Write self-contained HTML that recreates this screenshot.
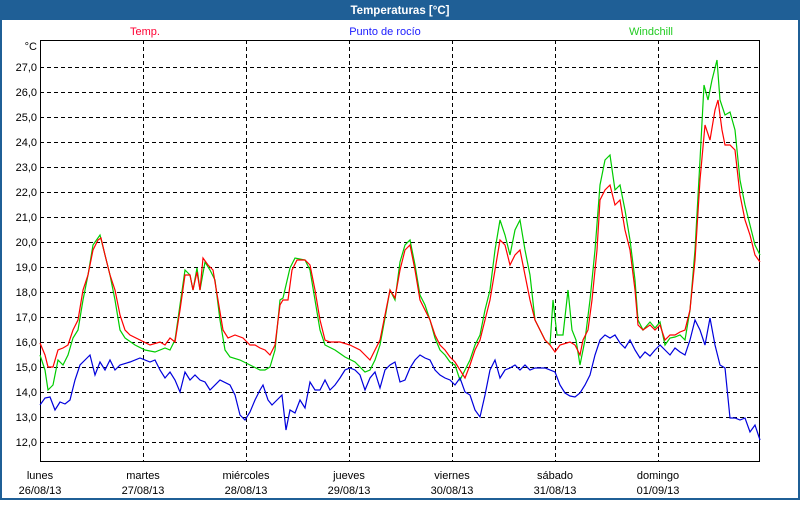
<!DOCTYPE html>
<html><head><style>
body{margin:0;width:800px;height:500px;overflow:hidden;background:#fff;font-family:"Liberation Sans",sans-serif;}
</style></head><body>
<svg width="800" height="500" xmlns="http://www.w3.org/2000/svg" font-family="Liberation Sans, sans-serif" font-size="11">
<rect x="0" y="0" width="800" height="500" fill="#1f5f96"/>
<rect x="2" y="20" width="796" height="478" fill="#fff"/>
<text x="400" y="14" fill="#fff" font-weight="bold" text-anchor="middle" font-size="11.5">Temperaturas [°C]</text>
<text x="145" y="35" fill="#ff0033" text-anchor="middle">Temp.</text>
<text x="385" y="35" fill="#1a1aff" text-anchor="middle">Punto de rocío</text>
<text x="651" y="35" fill="#22cc22" text-anchor="middle">Windchill</text>
<g stroke="#000" stroke-dasharray="4,3" stroke-width="1">
<path d="M40 67.5H760M40 92.5H760M40 117.5H760M40 142.5H760M40 167.5H760M40 192.5H760M40 217.5H760M40 242.5H760M40 267.5H760M40 292.5H760M40 317.5H760M40 342.5H760M40 367.5H760M40 392.5H760M40 417.5H760M40 442.5H760"/>
<path d="M143.5 40V461M246.5 40V461M349.5 40V461M452.5 40V461M555.5 40V461M658.5 40V461"/>
</g>
<rect x="40.5" y="40.5" width="719" height="421" fill="none" stroke="#000"/>
<g text-anchor="end" fill="#000">
<text x="37" y="50">°C</text>
<text x="37" y="71">27,0</text><text x="37" y="96">26,0</text><text x="37" y="121">25,0</text><text x="37" y="146">24,0</text>
<text x="37" y="171">23,0</text><text x="37" y="196">22,0</text><text x="37" y="221">21,0</text><text x="37" y="246">20,0</text>
<text x="37" y="271">19,0</text><text x="37" y="296">18,0</text><text x="37" y="321">17,0</text><text x="37" y="346">16,0</text>
<text x="37" y="371">15,0</text><text x="37" y="396">14,0</text><text x="37" y="421">13,0</text><text x="37" y="446">12,0</text>
</g>
<g text-anchor="middle" fill="#000">
<text x="40" y="479">lunes</text><text x="40" y="494">26/08/13</text>
<text x="143" y="479">martes</text><text x="143" y="494">27/08/13</text>
<text x="246" y="479">miércoles</text><text x="246" y="494">28/08/13</text>
<text x="349" y="479">jueves</text><text x="349" y="494">29/08/13</text>
<text x="452" y="479">viernes</text><text x="452" y="494">30/08/13</text>
<text x="555" y="479">sábado</text><text x="555" y="494">31/08/13</text>
<text x="658" y="479">domingo</text><text x="658" y="494">01/09/13</text>
</g>
<g fill="none" stroke-width="1.2">
<polyline stroke="#00cc00" points="40,355 45,370 48,390 53,385 58,360 63,365 68,355 73,338 78,330 83,300 88,275 93,245 100,235 105,255 110,275 115,300 120,330 125,338 135,345 145,350 155,352 165,348 170,350 175,340 180,305 185,270 190,275 193,290 197,268 200,290 205,262 210,270 215,280 220,320 225,350 230,357 240,360 250,365 260,370 265,370 270,367 275,350 280,300 283,298 290,268 295,258 305,260 310,270 315,300 320,330 325,345 335,350 345,357 355,362 365,372 370,370 375,360 380,345 385,318 390,290 395,300 400,262 405,245 410,240 415,265 420,295 425,305 430,320 435,338 440,350 445,355 450,362 455,365 460,380 465,370 470,360 475,345 480,335 485,310 490,290 495,250 500,220 505,235 510,255 515,230 520,220 525,250 530,275 535,320 540,330 545,340 550,345 553,300 557,335 563,335 568,290 572,330 576,340 580,365 585,340 590,300 595,250 600,185 605,160 610,155 615,190 620,185 625,210 630,240 635,280 638,320 643,330 650,322 655,328 660,322 665,345 670,338 675,337 680,335 685,340 690,310 695,250 700,160 704,85 708,100 712,80 717,60 720,100 725,115 730,112 735,130 740,180 745,205 750,225 755,245 760,255"/>
<polyline stroke="#ff0000" points="40,343 45,355 48,367 53,367 58,350 63,348 68,345 73,330 78,320 83,290 88,275 93,250 98,240 101,238 105,255 110,275 115,290 120,315 125,330 130,335 140,340 150,345 160,342 165,345 170,338 175,342 180,310 185,275 190,275 193,290 197,272 200,290 203,258 208,265 213,270 218,300 223,330 228,338 235,335 243,338 250,345 255,345 260,348 265,350 270,355 275,345 280,305 283,300 288,300 292,270 297,260 305,260 310,265 315,290 320,320 325,340 330,342 340,342 350,345 360,350 365,355 370,360 375,350 380,340 385,315 390,290 395,298 400,270 405,250 410,245 415,270 420,300 425,310 430,320 435,335 440,345 445,350 450,357 455,362 460,370 465,378 470,365 475,350 480,340 485,320 490,300 495,270 500,240 505,245 510,265 515,255 520,250 525,275 530,300 535,320 540,330 545,340 550,345 555,352 560,345 570,342 575,345 580,355 583,340 588,330 592,300 597,250 600,200 605,190 610,185 615,205 620,200 625,230 630,250 635,290 638,325 643,330 650,325 655,330 660,325 665,340 670,335 675,335 680,332 685,330 690,310 695,260 700,180 705,125 710,140 715,110 718,100 722,130 725,145 730,145 735,150 740,195 745,220 750,235 755,255 760,262"/>
<polyline stroke="#0000dd" points="40,405 45,398 50,397 55,410 60,402 65,404 70,400 75,380 80,365 85,360 90,355 95,375 100,362 105,370 110,360 115,370 120,365 130,362 140,358 150,362 155,360 160,370 165,378 170,372 175,380 180,392 185,372 190,380 195,375 200,380 205,382 210,390 220,380 230,385 235,395 240,415 245,420 250,412 255,400 260,390 263,385 268,400 272,405 277,400 282,395 286,430 290,410 295,413 300,400 305,408 310,382 315,390 320,390 325,380 330,390 335,385 340,378 345,370 350,368 355,370 360,375 365,390 370,378 375,372 380,388 385,370 390,365 395,362 400,382 405,380 410,368 415,360 420,355 425,358 430,360 435,370 440,375 445,378 450,380 455,385 460,378 465,392 470,395 475,410 480,417 485,395 490,370 495,360 500,378 505,370 510,368 515,365 520,370 525,365 530,370 535,368 545,368 555,372 560,385 565,393 570,396 575,397 580,393 585,385 590,375 595,355 600,340 605,335 610,338 615,335 620,343 625,348 630,340 635,350 640,358 645,352 650,356 655,350 660,345 665,350 670,355 675,348 680,352 685,355 690,340 695,320 700,330 705,345 710,318 715,345 720,365 725,368 730,418 735,418 740,420 745,418 750,432 755,425 760,440"/>
</g>
</svg>
</body></html>
